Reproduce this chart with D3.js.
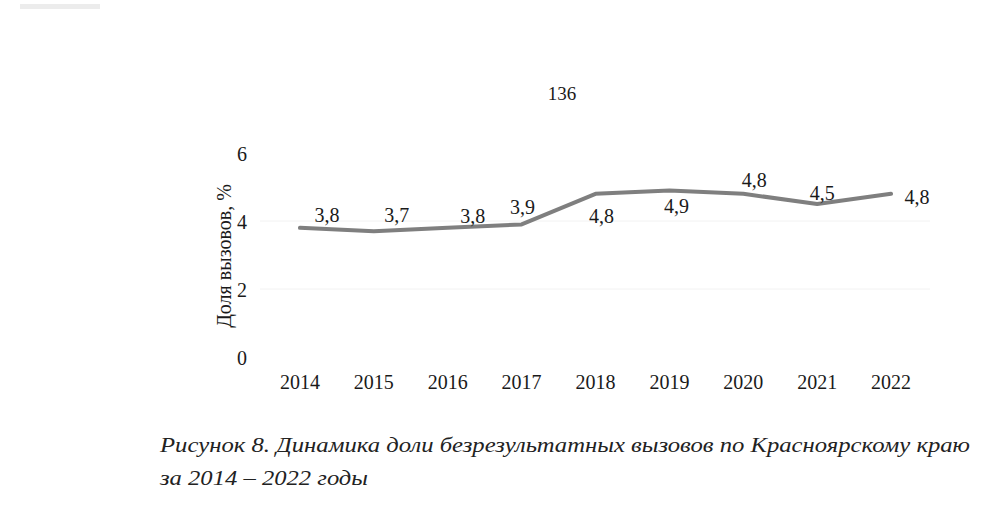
<!DOCTYPE html>
<html><head><meta charset="utf-8">
<script src="https://cdn.jsdelivr.net/npm/d3@7"></script>
<style>
html,body{margin:0;padding:0;background:#fff;}
svg{display:block;}
</style></head>
<body>
<svg id="c" width="984" height="517"></svg>
<script>
const years = ["2014","2015","2016","2017","2018","2019","2020","2021","2022"];
const shares = [3.8,3.7,3.8,3.9,4.8,4.9,4.8,4.5,4.8];
const shareLabels = ["3,8","3,7","3,8","3,9","4,8","4,9","4,8","4,5","4,8"];
const yTicks = [0,2,4,6];
const pageNumber = "136";
const yTitle = "Доля вызовов, %";
const captionLines = ["Рисунок 8. Динамика доли безрезультатных вызовов по Красноярскому краю","за 2014 – 2022 годы"];

// layout-only: label offsets in px relative to the point
const labelOffsets = [[27,-13],[23,-16],[25,-12],[1,-17],[6,22],[7,16],[11,-14],[5,-11],[26,3]];

const svg = d3.select("#c");
const serif = "'Liberation Serif','Times New Roman',serif";

// scan smudge
svg.append("rect").attr("x",20).attr("y",4).attr("width",80).attr("height",5).attr("fill","#ececec");

const x = d3.scaleBand().domain(years).range([263,928]);
const cx = d => x(d) + x.bandwidth()/2;
const y = d3.scaleLinear().domain([0,6]).range([357,153]);

// gridlines (faint)
svg.append("g").selectAll("line").data(yTicks.filter(t=>t>0 && t<6)).join("line")
  .attr("x1",260).attr("x2",930)
  .attr("y1",d=>y(d)).attr("y2",d=>y(d))
  .attr("stroke","#f2f2f2").attr("stroke-width",1);

// y axis
const yAxis = d3.axisLeft(y).tickValues(yTicks).tickSize(0).tickPadding(0).tickFormat(d3.format("d"));
const gy = svg.append("g").attr("transform","translate(247,0)").call(yAxis);
gy.select(".domain").remove();
gy.selectAll("text").attr("font-family",serif).attr("font-size",20).attr("fill","#1a1a1a").attr("dy","0.35em");

// x axis
const xAxis = d3.axisBottom(x).tickSize(0).tickPadding(0);
const gx = svg.append("g").attr("transform","translate(0,382)").call(xAxis);
gx.select(".domain").remove();
gx.selectAll("text").attr("font-family",serif).attr("font-size",20).attr("fill","#1a1a1a").attr("dy","0.35em");

// y title
svg.append("text").attr("transform","translate(224,256) rotate(-90)")
  .attr("text-anchor","middle").attr("dominant-baseline","central")
  .attr("font-family",serif).attr("font-size",20).attr("fill","#1a1a1a").text(yTitle);

// line
const line = d3.line().x((d,i)=>cx(years[i])).y(d=>y(d));
svg.append("path").datum(shares).attr("d",line)
  .attr("fill","none").attr("stroke","#7f7f7f").attr("stroke-width",4)
  .attr("stroke-linejoin","round").attr("stroke-linecap","round");

// data labels
svg.append("g").selectAll("text").data(shares).join("text")
  .attr("x",(d,i)=>cx(years[i])+labelOffsets[i][0])
  .attr("y",(d,i)=>y(d)+labelOffsets[i][1])
  .attr("text-anchor","middle").attr("dy","0.35em")
  .attr("font-family",serif).attr("font-size",20).attr("fill","#1a1a1a")
  .text((d,i)=>shareLabels[i]);

// page number
svg.append("text").attr("x",562).attr("y",100).attr("text-anchor","middle")
  .attr("font-family",serif).attr("font-size",19).attr("fill","#1a1a1a").text(pageNumber);

// caption
svg.append("text").attr("x",160).attr("y",452)
  .attr("font-family",serif).attr("font-style","italic").attr("font-size",21).attr("fill","#222")
  .attr("textLength",810).attr("lengthAdjust","spacingAndGlyphs").text(captionLines[0]);
svg.append("text").attr("x",160).attr("y",485)
  .attr("font-family",serif).attr("font-style","italic").attr("font-size",21).attr("fill","#222")
  .attr("textLength",208).attr("lengthAdjust","spacingAndGlyphs").text(captionLines[1]);
</script>
</body></html>
